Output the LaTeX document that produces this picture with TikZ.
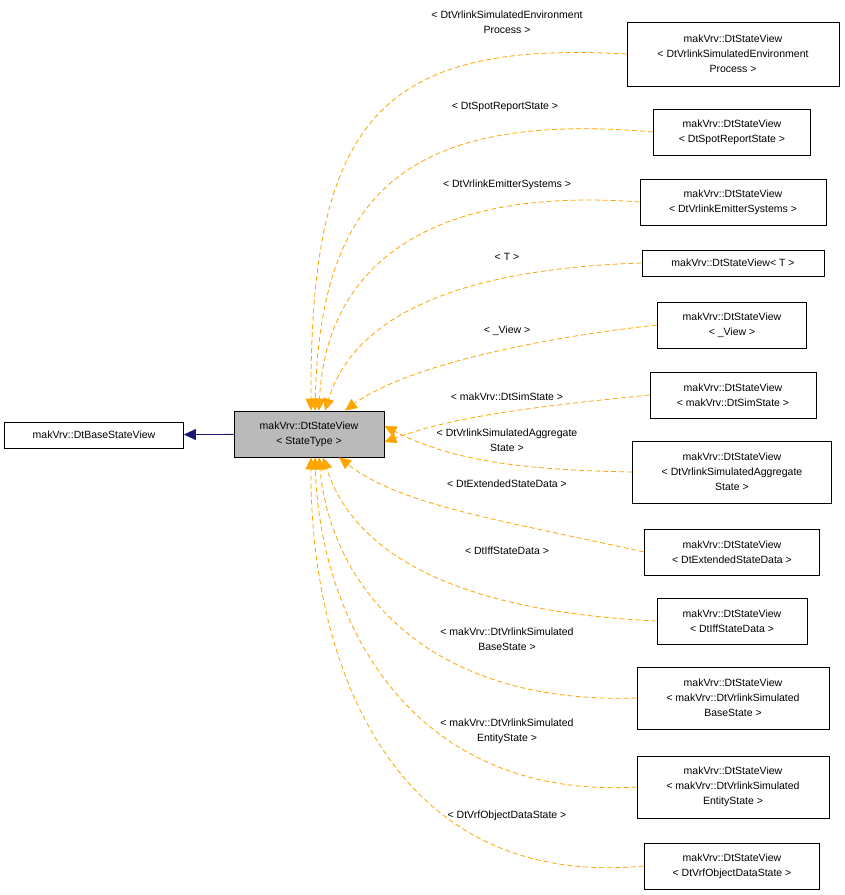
\documentclass[tikz,border=0pt]{standalone}
\usepackage{fontspec}
\setmainfont{Liberation Sans}
\usetikzlibrary{arrows.meta}
\definecolor{inhcol}{RGB}{255,165,0}
\definecolor{basecol}{RGB}{25,25,112}
\tikzset{
  cls/.style={draw,line width=0.8pt,align=center,inner sep=3pt,font=\fontsize{10.5}{15}\selectfont},
  inh/.style={draw=inhcol,line width=0.8pt,dash pattern=on 5pt off 3pt,-{Triangle[length=12pt,width=11pt,fill=inhcol]}},
  lbl/.style={align=center,font=\fontsize{10.5}{15}\selectfont}
}
\begin{document}
\begin{tikzpicture}[x=1pt,y=-1pt]
	\useasboundingbox (0,0) rectangle (845,895);

	\node[cls,fill=black!27,minimum width=150,minimum height=46] (main) at (309,434) {makVrv::DtStateView\\\textless{} StateType \textgreater};
	\node[cls,minimum width=179,minimum height=26] (base) at (94,435) {makVrv::DtBaseStateView};

	\node[cls,minimum width=212,minimum height=64] (v1) at (733,54) {makVrv::DtStateView\\\textless{} DtVrlinkSimulatedEnvironment\\Process \textgreater};
	\node[cls,minimum width=157,minimum height=46] (v2) at (732,132) {makVrv::DtStateView\\\textless{} DtSpotReportState \textgreater};
	\node[cls,minimum width=186,minimum height=46] (v3) at (733,202) {makVrv::DtStateView\\\textless{} DtVrlinkEmitterSystems \textgreater};
	\node[cls,minimum width=182,minimum height=26] (v4) at (733,263) {makVrv::DtStateView\textless{} T \textgreater};
	\node[cls,minimum width=149,minimum height=46] (v5) at (732,325) {makVrv::DtStateView\\\textless{} \_View \textgreater};
	\node[cls,minimum width=166,minimum height=46] (v6) at (733,395) {makVrv::DtStateView\\\textless{} makVrv::DtSimState \textgreater};
	\node[cls,minimum width=199,minimum height=62] (v7) at (732,472) {makVrv::DtStateView\\\textless{} DtVrlinkSimulatedAggregate\\State \textgreater};
	\node[cls,minimum width=175,minimum height=46] (v8) at (732,552) {makVrv::DtStateView\\\textless{} DtExtendedStateData \textgreater};
	\node[cls,minimum width=150,minimum height=46] (v9) at (732,621) {makVrv::DtStateView\\\textless{} DtIffStateData \textgreater};
	\node[cls,minimum width=192,minimum height=62] (v10) at (733,698) {makVrv::DtStateView\\\textless{} makVrv::DtVrlinkSimulated\\BaseState \textgreater};
	\node[cls,minimum width=192,minimum height=62] (v11) at (733,787) {makVrv::DtStateView\\\textless{} makVrv::DtVrlinkSimulated\\EntityState \textgreater};
	\node[cls,minimum width=175,minimum height=46] (v12) at (732,866) {makVrv::DtStateView\\\textless{} DtVrfObjectDataState \textgreater};

	% inheritance labels
	\node[lbl] (l1) at (507,22) {\textless{} DtVrlinkSimulatedEnvironment\\Process \textgreater};
	\node[lbl] (l2) at (505,107) {\textless{} DtSpotReportState \textgreater};
	\node[lbl] (l3) at (507,185) {\textless{} DtVrlinkEmitterSystems \textgreater};
	\node[lbl] (l4) at (507,257) {\textless{} T \textgreater};
	\node[lbl] (l5) at (507,331) {\textless{} \_View \textgreater};
	\node[lbl] (l6) at (507,397) {\textless{} makVrv::DtSimState \textgreater};
	\node[lbl] (l7) at (507,440) {\textless{} DtVrlinkSimulatedAggregate\\State \textgreater};
	\node[lbl] (l8) at (507,484) {\textless{} DtExtendedStateData \textgreater};
	\node[lbl] (l9) at (507,551) {\textless{} DtIffStateData \textgreater};
	\node[lbl] (l10) at (507,639) {\textless{} makVrv::DtVrlinkSimulated\\BaseState \textgreater};
	\node[lbl] (l11) at (507,731) {\textless{} makVrv::DtVrlinkSimulated\\EntityState \textgreater};
	\node[lbl] (l12) at (507,816) {\textless{} DtVrfObjectDataState \textgreater};

	\draw[draw=basecol,line width=0.8pt,-{Triangle[length=12pt,width=11pt,fill=basecol]}] (main) -- (base);

	\draw[inh] (v1.west) .. controls (380,40) and (310,120) .. ([xshift=2]main.north);
	\draw[inh] (v2.west) .. controls (400,110) and (320,200) .. ([xshift=6]main.north);
	\draw[inh] (v3.west) .. controls (410,185) and (325,280) .. ([xshift=10]main.north);
	\draw[inh] (v4.west) .. controls (430,270) and (350,330) .. ([xshift=16]main.north);
	\draw[inh] (v5.west) .. controls (520,340) and (400,370) .. ([xshift=36]main.north);
	\draw[inh] (v6.west) .. controls (520,408) and (450,418) .. ([yshift=-8]main.east);
	\draw[inh] (v7.west) .. controls (520,470) and (450,460) .. ([yshift=8]main.east);
	\draw[inh] (v8.west) .. controls (500,520) and (400,505) .. ([xshift=30]main.south);
	\draw[inh] (v9.west) .. controls (430,610) and (350,540) .. ([xshift=14]main.south);
	\draw[inh] (v10.west) .. controls (420,705) and (330,580) .. ([xshift=10]main.south);
	\draw[inh] (v11.west) .. controls (410,800) and (320,620) .. ([xshift=6]main.south);
	\draw[inh] (v12.west) .. controls (390,890) and (310,660) .. ([xshift=2]main.south);
\end{tikzpicture}
\end{document}
